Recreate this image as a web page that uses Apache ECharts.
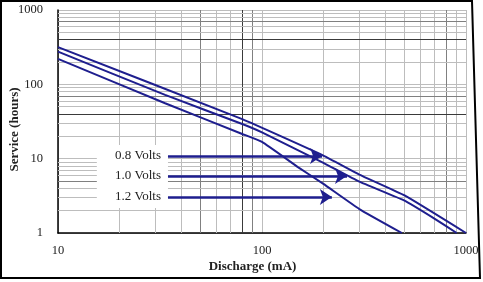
<!DOCTYPE html>
<html>
<head>
<meta charset="utf-8">
<script src="https://cdn.jsdelivr.net/npm/echarts@6/dist/echarts.min.js"></script>
<style>
html, body { margin: 0; padding: 0; background: #fff; }
#chart { width: 483px; height: 282px; }
</style>
</head>
<body>
<div id="chart"></div>
<script>
// discharge (mA) vs service (hours)
var v08Current = [10, 80, 200, 300, 500, 1000];
var v08Hours   = [316, 34, 11, 6.1, 3.2, 1];
var v10Current = [10, 33.5, 80, 100, 200, 300, 500, 700, 900];
var v10Hours   = [275, 72, 29.3, 22.6, 8.75, 4.9, 2.72, 1.56, 1];
var v12Current = [10, 33.5, 80, 100, 150, 200, 300, 485];
var v12Hours   = [220, 55.7, 21.5, 16.8, 7.7, 4.57, 2.1, 1];

var voltLabels  = ['0.8 Volts', '1.0 Volts', '1.2 Volts'];
var arrowStart  = [34.6, 34.6, 34.6];
var arrowEnd    = [197, 261, 220];
var arrowHours  = [10.9, 5.85, 3.05];

// minor grid values
var minorX = [20, 30, 40, 50, 60, 70, 80, 90, 200, 300, 400, 500, 600, 700, 800, 900];
var minorY = [2, 3, 4, 5, 6, 7, 8, 9, 20, 30, 40, 50, 60, 70, 80, 90, 200, 300, 400, 500, 600, 700, 800, 900];
var darkX = [80];
var midX  = [50, 90, 800];
var darkY = [400, 40];
var midY  = [700, 70, 5];

var chart = echarts.init(document.getElementById('chart'));
var serif = '"Liberation Serif", "DejaVu Serif", serif';
var navy = '#1e1e8e';

function pairs(xs, ys) {
    return xs.map(function (x, i) { return [x, ys[i]]; });
}

function shade(v, dark, mid) {
    if (dark.indexOf(v) >= 0) return '#3a3a3a';
    if (mid.indexOf(v) >= 0) return '#808080';
    return '#bdbdbd';
}

var gridData = [];
minorX.forEach(function (v) {
    gridData.push({ xAxis: v, lineStyle: { color: shade(v, darkX, midX), width: 1, type: 'solid' } });
});
minorY.forEach(function (v) {
    gridData.push({ yAxis: v, lineStyle: { color: shade(v, darkY, midY), width: 1, type: 'solid' } });
});

var arrowData = voltLabels.map(function (name, i) {
    return [
        { coord: [arrowStart[i], arrowHours[i]], name: name },
        { coord: [arrowEnd[i], arrowHours[i]] }
    ];
});

function lineSeries(name, data) {
    return {
        name: name,
        type: 'line',
        data: data,
        z: 3,
        symbol: 'none',
        smooth: 0.12,
        lineStyle: { color: navy, width: 2 },
        silent: true,
        animation: false
    };
}

var option = {
    animation: false,
    backgroundColor: '#fff',
    grid: { left: 58, right: 17, top: 10, bottom: 49, outerBoundsMode: 'none', containLabel: false },
    xAxis: {
        type: 'log',
        logBase: 10,
        min: 10,
        max: 1000,
        name: 'Discharge (mA)',
        nameLocation: 'middle',
        nameGap: 27,
        nameMoveOverlap: false,
        nameTextStyle: { fontFamily: serif, fontWeight: 'bold', fontSize: 13, color: '#222', padding: [0, 19, 0, 0] },
        axisLine: { show: true, lineStyle: { color: '#000', width: 1.5 } },
        axisTick: { show: false },
        axisLabel: {
            fontFamily: serif, fontSize: 12.5, color: '#222', margin: 11,
            formatter: function (v) { return String(Math.round(v)); }
        },
        splitLine: { show: true, lineStyle: { color: '#bdbdbd', width: 1 } }
    },
    yAxis: {
        type: 'log',
        logBase: 10,
        min: 1,
        max: 1000,
        name: 'Service (hours)',
        nameLocation: 'middle',
        nameGap: 37,
        nameMoveOverlap: false,
        nameTextStyle: { fontFamily: serif, fontWeight: 'bold', fontSize: 13, color: '#222', padding: [0, 16, 0, 0] },
        axisLine: { show: true, lineStyle: { color: '#000', width: 1.5 } },
        axisTick: { show: false },
        axisLabel: {
            fontFamily: serif, fontSize: 12.5, color: '#222', margin: 15,
            formatter: function (v) { return String(Math.round(v)); }
        },
        splitLine: { show: true, lineStyle: { color: '#bdbdbd', width: 1 } }
    },
    series: [
        {
            type: 'line',
            data: [],
            silent: true,
            z: 1,
            markLine: {
                z: 1,
                silent: true,
                animation: false,
                symbol: ['none', 'none'],
                label: { show: false },
                data: gridData
            }
        },
        lineSeries('0.8 V', pairs(v08Current, v08Hours)),
        lineSeries('1.0 V', pairs(v10Current, v10Hours)),
        lineSeries('1.2 V', pairs(v12Current, v12Hours)),
        {
            type: 'line',
            data: [],
            silent: true,
            z: 4,
            markLine: {
                z: 4,
                silent: true,
                animation: false,
                symbol: ['none', 'arrow'],
                symbolSize: 12,
                lineStyle: { color: navy, width: 2.5, type: 'solid' },
                itemStyle: { color: navy },
                label: {
                    show: true,
                    position: 'start',
                    distance: 7,
                    formatter: '{b}',
                    fontFamily: serif,
                    fontSize: 13,
                    color: '#222'
                },
                data: arrowData
            }
        }
    ]
};
chart.setOption(option);

// white panel behind the voltage labels, placed in data space
var boxA = chart.convertToPixel({ gridIndex: 0 }, [15.5, 15.3]);
var boxB = chart.convertToPixel({ gridIndex: 0 }, [34.6, 2.17]);
chart.setOption({
    graphic: [
        {
            type: 'rect',
            z: 2,
            silent: true,
            shape: { x: boxA[0], y: boxA[1], width: boxB[0] - boxA[0], height: boxB[1] - boxA[1] },
            style: { fill: '#fff' }
        },
        {
            type: 'polygon',
            z: 10,
            silent: true,
            shape: { points: [[1, 1], [472, 1], [480, 278], [1, 278]] },
            style: { fill: null, stroke: '#000', lineWidth: 2 }
        }
    ]
});
</script>
</body>
</html>
